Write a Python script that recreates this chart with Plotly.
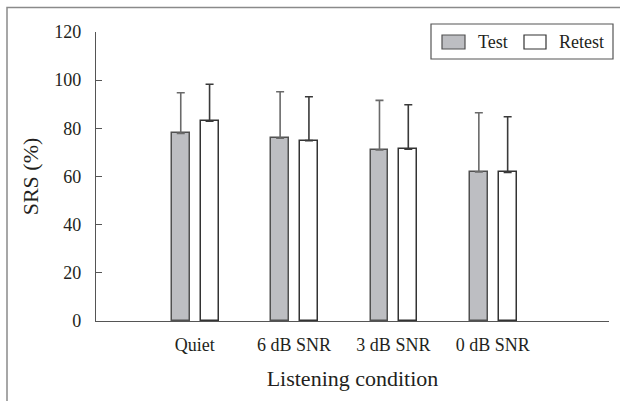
import plotly.graph_objects as go

# Speech recognition scores by listening condition
conditions = ["Quiet", "6 dB SNR", "3 dB SNR", "0 dB SNR"]
test_mean = [77.9, 75.9, 71.0, 61.9]
test_sd = [16.9, 19.3, 20.6, 24.6]
retest_mean = [83.0, 74.9, 71.3, 61.7]
retest_sd = [15.3, 18.2, 18.5, 23.1]
y_ticks = [0, 20, 40, 60, 80, 100, 120]

FONT = "Liberation Serif"
TEXT = "#231f20"
AXIS = "#555555"
TEST_FILL = "#bdbec2"

x_pos = list(range(len(conditions)))

fig = go.Figure()
fig.add_trace(go.Bar(
    x=x_pos, y=test_mean, name="Test",
    width=0.18, offset=-0.23,
    marker=dict(color=TEST_FILL, line=dict(color="#505050", width=1.5)),
    error_y=dict(type="data", array=test_sd, arrayminus=[0] * len(test_sd),
                 symmetric=False, color="#6a6a6a", thickness=1.6, width=4),
    showlegend=False,
))
fig.add_trace(go.Bar(
    x=x_pos, y=retest_mean, name="Retest",
    width=0.18, offset=0.06,
    marker=dict(color="white", line=dict(color="#333333", width=1.5)),
    error_y=dict(type="data", array=retest_sd, arrayminus=[0] * len(retest_sd),
                 symmetric=False, color="#3a3a3a", thickness=1.6, width=4),
    showlegend=False,
))

W, H = 620, 401
L, R, T, B = 96, 11, 32, 80
pw, ph = W - L - R, H - T - B


def px(x):
    return (x - L) / pw


def py(y):
    return (H - B - y) / ph


shapes = [
    # outer frame
    dict(type="rect", xref="paper", yref="paper",
         x0=px(7), x1=px(640), y0=py(420), y1=py(7.5),
         line=dict(color="#8a8a8a", width=1.5), fillcolor="rgba(0,0,0,0)"),
    # legend box
    dict(type="rect", xref="paper", yref="paper",
         x0=px(431), x1=px(613), y0=py(59), y1=py(24),
         line=dict(color="#555555", width=1.2), fillcolor="white"),
    dict(type="rect", xref="paper", yref="paper",
         x0=px(442), x1=px(465), y0=py(49), y1=py(35),
         line=dict(color="#505050", width=1.2), fillcolor=TEST_FILL),
    dict(type="rect", xref="paper", yref="paper",
         x0=px(524), x1=px(546), y0=py(49), y1=py(35),
         line=dict(color="#333333", width=1.2), fillcolor="white"),
]

annotations = [
    dict(xref="paper", yref="paper", x=px(476), y=py(42), text="Test",
         showarrow=False, xanchor="left", yanchor="middle",
         font=dict(family=FONT, size=18, color=TEXT)),
    dict(xref="paper", yref="paper", x=px(557), y=py(42), text="Retest",
         showarrow=False, xanchor="left", yanchor="middle",
         font=dict(family=FONT, size=18, color=TEXT)),
]

fig.update_layout(
    width=W, height=H,
    margin=dict(l=L, r=R, t=T, b=B),
    paper_bgcolor="white", plot_bgcolor="white",
    font=dict(family=FONT, size=18, color=TEXT),
    bargap=0,
    shapes=shapes, annotations=annotations,
    showlegend=False,
)
fig.update_xaxes(
    range=[-0.993, 4.17],
    tickmode="array", tickvals=x_pos, ticktext=conditions,
    showline=True, linecolor=AXIS, linewidth=1.3,
    ticks="", showgrid=False, zeroline=False,
    ticklabelstandoff=7,
    title=dict(text="Listening condition", standoff=16),
)
fig.update_yaxes(
    range=[0, 120],
    tickmode="array", tickvals=y_ticks,
    showline=True, linecolor=AXIS, linewidth=1.3,
    ticks="inside", ticklen=6, tickcolor=AXIS, tickwidth=1.3,
    showgrid=False, zeroline=False,
    ticklabelstandoff=10,
    title=dict(text="SRS (%)", standoff=9),
)

fig.write_html("out.html")
